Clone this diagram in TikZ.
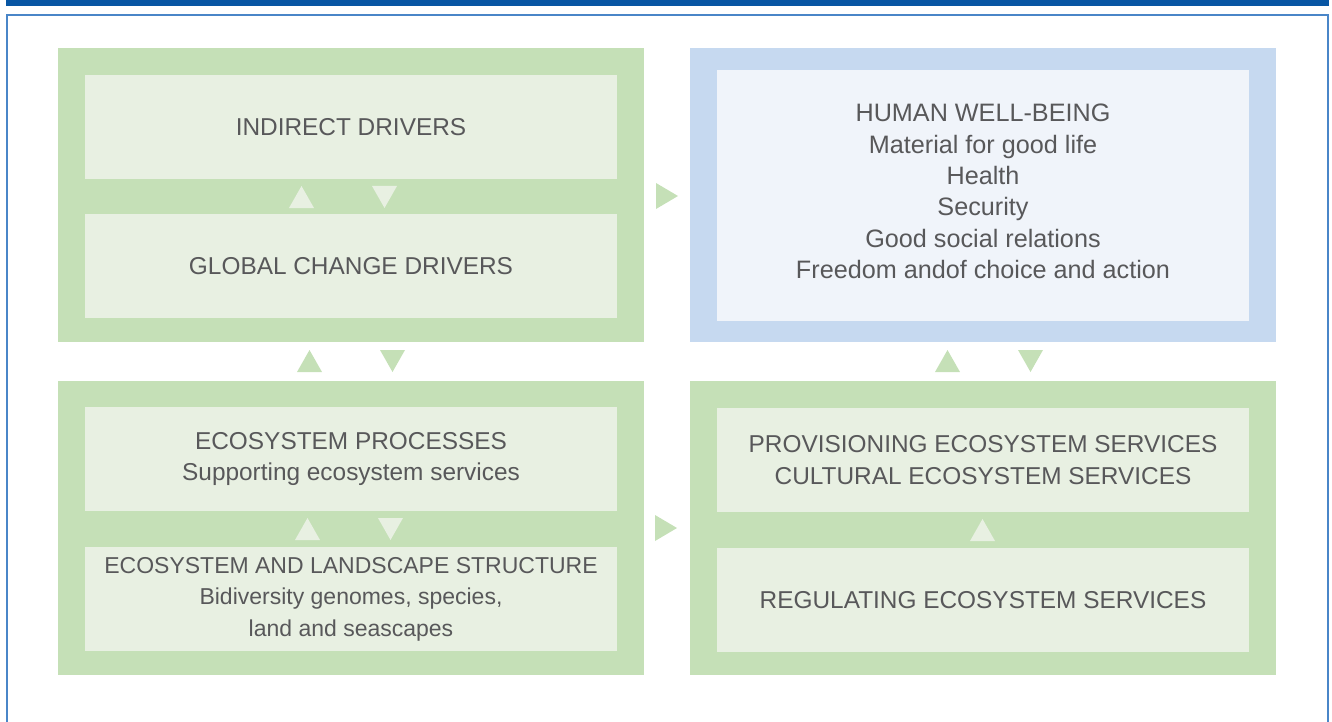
\documentclass[tikz,border=0pt]{standalone}
\usepackage{fontspec}
\setmainfont{Liberation Sans}
\definecolor{gOut}{RGB}{197,224,183}
\definecolor{gIn}{RGB}{232,240,226}
\definecolor{bOut}{RGB}{198,217,240}
\definecolor{bIn}{RGB}{240,244,250}
\definecolor{txt}{RGB}{88,88,90}
\definecolor{barBlue}{RGB}{8,86,164}
\definecolor{frameBlue}{RGB}{74,134,200}
\tikzset{
  lbl/.style={text=txt, align=center, inner sep=0pt, font=\fontsize{24.4}{31.5}\selectfont},
  lblbig/.style={lbl, font=\fontsize{25.2}{31.4}\selectfont},
  lblsmall/.style={lbl, font=\fontsize{23}{31.6}\selectfont},
}
% box macro: name, x1, y1, x2, y2, style
\newcommand{\mybox}[6]{\path[#6] (#2,#3) rectangle (#4,#5);
  \coordinate (#1) at ({(#2+#4)/2},{(#3+#5)/2});}
\newcommand{\triup}[4]{\fill[#4] (#1,#3) -- ({#1+25},#3) -- ({#1+12.5},{#3-22}) -- cycle;}
\newcommand{\tridown}[4]{\fill[#4] (#1,{#3-22}) -- ({#1+25},{#3-22}) -- ({#1+12.5},#3) -- cycle;}
\newcommand{\triright}[3]{\fill[#3] (#1,{#2-13}) -- ({#1+22},#2) -- (#1,{#2+13}) -- cycle;}
\begin{document}
\begin{tikzpicture}[x=1pt,y=-1pt]
\useasboundingbox (0,0) rectangle (1332,722);
% header bar and frame
\fill[barBlue] (6,0.5) rectangle (1329,6);
\draw[frameBlue, line width=2pt] (7,722) -- (7,15.5) -- (1328,15.5) -- (1328,722);

% outer boxes
\mybox{TL}{58}{48}{644}{342}{fill=gOut}
\mybox{TR}{690}{48}{1276}{342}{fill=bOut}
\mybox{BL}{58}{381}{644}{675}{fill=gOut}
\mybox{BR}{690}{381}{1276}{675}{fill=gOut}
% inner boxes
\mybox{tl1}{85}{75}{617}{179}{fill=gIn}
\mybox{tl2}{85}{214}{617}{318}{fill=gIn}
\mybox{tr1}{717}{70}{1249}{321}{fill=bIn}
\mybox{bl1}{85}{407}{617}{511}{fill=gIn}
\mybox{bl2}{85}{547}{617}{651}{fill=gIn}
\mybox{br1}{717}{408}{1249}{512}{fill=gIn}
\mybox{br2}{717}{548}{1249}{652}{fill=gIn}

% texts
\node[lbl] (t1) at (tl1) {INDIRECT DRIVERS};
\node[lbl] (t2) at (tl2) {GLOBAL CHANGE DRIVERS};
\node[lblbig] (t3) at ([yshift=4pt]tr1) {HUMAN WELL-BEING\\Material for good life\\Health\\Security\\Good social relations\\Freedom andof choice and action};
\node[lbl] (t4) at (bl1) {ECOSYSTEM PROCESSES\\Supporting ecosystem services};
\node[lblsmall] (t5) at (bl2) {ECOSYSTEM AND LANDSCAPE STRUCTURE\\Bidiversity genomes, species,\\land and seascapes};
\node[lbl] (t6) at (br1) {PROVISIONING ECOSYSTEM SERVICES\\CULTURAL ECOSYSTEM SERVICES};
\node[lbl] (t7) at (br2) {REGULATING ECOSYSTEM SERVICES};

% triangles
\triup{289}{0}{208}{gIn}
\tridown{372}{0}{208}{gIn}
\triup{297}{0}{372}{gOut}
\tridown{380}{0}{372}{gOut}
\triup{295}{0}{540}{gIn}
\tridown{378}{0}{540}{gIn}
\triup{935}{0}{372}{gOut}
\tridown{1018}{0}{372}{gOut}
\triup{970}{0}{541}{gIn}
\triright{656}{196}{gOut}
\triright{655}{528}{gOut}
\end{tikzpicture}
\end{document}
